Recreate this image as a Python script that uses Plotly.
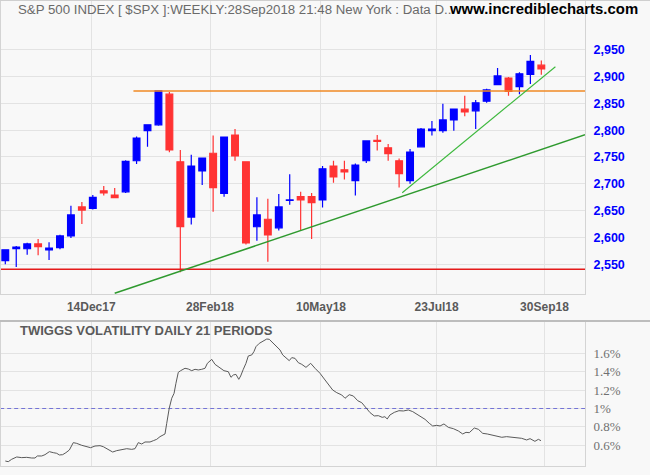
import pandas as pd
import plotly.graph_objects as go

# ---------------- data ----------------
weeks = pd.date_range("2017-10-20", periods=50, freq="W-FRI")
opens = [2557, 2579, 2579, 2588, 2577, 2581, 2603, 2657, 2654, 2687,
         2679, 2685, 2743, 2799, 2810, 2867, 2741, 2638, 2724, 2757,
         2682, 2791, 2741, 2620, 2634, 2618, 2669, 2676, 2676, 2670,
         2733, 2726, 2706, 2743, 2781, 2767, 2743, 2706, 2769, 2799,
         2799, 2819, 2839, 2836, 2854, 2885, 2897, 2881, 2904, 2921]
highs = [2578, 2584, 2590, 2597, 2591, 2605, 2659, 2666, 2679, 2696,
         2692, 2744, 2788, 2810, 2873, 2871, 2763, 2754, 2748, 2790,
         2787, 2802, 2741, 2675, 2672, 2681, 2718, 2685, 2683, 2733,
         2743, 2743, 2738, 2780, 2791, 2774, 2747, 2765, 2804, 2817,
         2849, 2839, 2864, 2856, 2877, 2916, 2899, 2908, 2940, 2930]
lows = [2550, 2545, 2568, 2567, 2558, 2578, 2599, 2625, 2652, 2678,
        2674, 2683, 2737, 2769, 2808, 2759, 2535, 2624, 2698, 2648,
        2676, 2743, 2587, 2594, 2555, 2613, 2661, 2614, 2597, 2656,
        2702, 2708, 2678, 2739, 2762, 2743, 2693, 2700, 2769, 2790,
        2795, 2799, 2826, 2802, 2851, 2885, 2864, 2867, 2886, 2903]
closes = [2577, 2582, 2588, 2583, 2580, 2603, 2642, 2651, 2675, 2683,
          2674, 2742, 2785, 2810, 2873, 2763, 2620, 2733, 2748, 2693,
          2787, 2752, 2590, 2642, 2605, 2657, 2670, 2670, 2665, 2728,
          2713, 2722, 2735, 2780, 2779, 2756, 2719, 2759, 2802, 2802,
          2819, 2839, 2834, 2851, 2875, 2901, 2872, 2905, 2928, 2914]

support_level = 2540.7
resistance_level = 2872.9
resistance_from = "2018-01-10"

trend1_dates = ["2017-12-29", "2018-10-26"]
trend1_prices = [2496.0, 2791.5]
trend2_dates = ["2018-07-01", "2018-10-07"]
trend2_prices = [2683.4, 2918.2]

vol_start = "2017-10-20"
vol_days = [0, 1.9, 4.1, 7.3, 10.5, 13.7, 16.9, 19.0, 20.5, 23.3,
            25.4, 28.2, 30.7, 32.9, 34.6, 36.7, 38.8, 41.0, 43.5, 45.7,
            48.9, 52.1, 54.6, 57.4, 60.6, 62.7, 65.9, 68.7, 71.3, 74.5,
            77.7, 80.9, 83.0, 85.1, 87.3, 89.4, 92.6, 94.7, 96.9, 99.0,
            101.1, 102.2, 103.3, 104.9, 106.5, 108.0, 109.2, 110.7, 112.2, 115.0,
            117.1, 119.3, 121.4, 123.5, 125.7, 127.8, 129.3, 132.1, 134.2, 137.4,
            139.9, 142.7, 144.4, 145.9, 147.6, 149.4, 150.6, 152.3, 154.0, 155.5,
            157.7, 159.1, 160.4, 162.5, 165.1, 167.3, 168.9, 170.5, 173.2, 175.8,
            177.5, 179.6, 181.7, 183.3, 185.4, 187.5, 189.7, 192.4, 195.4, 198.2,
            201.4, 204.6, 206.7, 209.5, 212.1, 215.3, 217.4, 220.1, 222.7, 225.5,
            228.1, 230.8, 233.4, 236.1, 238.7, 241.2, 242.9, 244.4, 246.1, 248.9,
            251.9, 254.7, 257.9, 260.7, 263.3, 265.8, 268.6, 271.3, 273.5, 276.1,
            278.2, 280.7, 283.5, 286.7, 289.9, 292.7, 294.8, 296.9, 300.1, 302.7,
            305.5, 308.4, 311.3, 314.5, 317.7, 320.8, 324.0, 327.2, 330.4, 333.6,
            335.8, 338.9, 341.1, 342.8]
vol_pct = [0.429, 0.422, 0.448, 0.473, 0.466, 0.469, 0.462, 0.462, 0.484, 0.484,
           0.498, 0.531, 0.520, 0.513, 0.495, 0.498, 0.520, 0.549, 0.629, 0.621,
           0.600, 0.585, 0.574, 0.592, 0.596, 0.585, 0.556, 0.527, 0.542, 0.556,
           0.563, 0.556, 0.563, 0.629, 0.614, 0.636, 0.636, 0.650, 0.665, 0.694,
           0.712, 0.723, 0.839, 1.002, 1.111, 1.165, 1.274, 1.393, 1.411, 1.437,
           1.429, 1.411, 1.426, 1.419, 1.426, 1.437, 1.491, 1.534, 1.480, 1.437,
           1.411, 1.400, 1.339, 1.364, 1.371, 1.317, 1.353, 1.426, 1.491, 1.571,
           1.582, 1.618, 1.672, 1.708, 1.737, 1.755, 1.752, 1.726, 1.679, 1.636,
           1.582, 1.553, 1.520, 1.553, 1.545, 1.498, 1.480, 1.447, 1.491, 1.437,
           1.382, 1.310, 1.266, 1.201, 1.172, 1.147, 1.111, 1.150, 1.136, 1.085,
           1.063, 1.002, 0.955, 0.919, 0.922, 0.904, 0.911, 0.886, 0.929, 0.958,
           0.976, 0.973, 0.984, 0.966, 0.937, 0.911, 0.882, 0.839, 0.810, 0.817,
           0.810, 0.832, 0.795, 0.781, 0.756, 0.723, 0.741, 0.737, 0.788, 0.774,
           0.730, 0.723, 0.712, 0.705, 0.687, 0.694, 0.687, 0.683, 0.676, 0.658,
           0.672, 0.643, 0.665, 0.650]
vol_ref = 1.0

price_ticks = [2550, 2600, 2650, 2700, 2750, 2800, 2850, 2900, 2950]
vol_ticks = [0.6, 0.8, 1.0, 1.2, 1.4, 1.6]
vol_tick_labels = ["0.6%", "0.8%", "1%", "1.2%", "1.4%", "1.6%"]
date_ticks = ["2017-12-14", "2018-02-28", "2018-05-10", "2018-07-23", "2018-09-30"]
date_tick_labels = ["14Dec17", "28Feb18", "10May18", "23Jul18", "30Sep18"]

title_text = "S&P 500 INDEX [ $SPX ]:WEEKLY:28Sep2018 21:48 New York : Data D.."
site_text = "www.incrediblecharts.com"
vol_title = "TWIGGS VOLATILITY DAILY 21 PERIODS"

# ---------------- figure ----------------
BG = "#f8f8f8"
GRID = "#e3e3e3"
FRAME = "#d4d4d4"
t0 = pd.Timestamp(vol_start)
x_range = [t0 - pd.Timedelta(days=2.75), t0 + pd.Timedelta(days=370.95)]
vol_dates = [t0 + pd.Timedelta(days=d) for d in vol_days]

fig = go.Figure()

fig.add_trace(go.Candlestick(
    x=weeks, open=opens, high=highs, low=lows, close=closes,
    increasing=dict(line=dict(color="#0000ff", width=1.2), fillcolor="#0000ff"),
    decreasing=dict(line=dict(color="#ff3333", width=1.2), fillcolor="#ff3333"),
    whiskerwidth=0, showlegend=False, xaxis="x", yaxis="y"))

fig.add_trace(go.Scatter(x=[x_range[0] - pd.Timedelta(days=5), x_range[1] + pd.Timedelta(days=5)],
                         y=[support_level, support_level], mode="lines",
                         line=dict(color="#e41a1a", width=1.5), showlegend=False,
                         xaxis="x", yaxis="y"))
fig.add_trace(go.Scatter(x=[pd.Timestamp(resistance_from), x_range[1] + pd.Timedelta(days=5)],
                         y=[resistance_level, resistance_level], mode="lines",
                         line=dict(color="#f08a24", width=1.3), showlegend=False,
                         xaxis="x", yaxis="y"))
fig.add_trace(go.Scatter(x=trend1_dates, y=trend1_prices, mode="lines",
                         line=dict(color="#2f9a2f", width=1.5), showlegend=False,
                         xaxis="x", yaxis="y"))
fig.add_trace(go.Scatter(x=trend2_dates, y=trend2_prices, mode="lines",
                         line=dict(color="#3cb83c", width=1.1), showlegend=False,
                         xaxis="x", yaxis="y"))

fig.add_trace(go.Scatter(x=[x_range[0] - pd.Timedelta(days=5), x_range[1] + pd.Timedelta(days=5)],
                         y=[vol_ref, vol_ref], mode="lines",
                         line=dict(color="#7474d6", width=1, dash="4px,3px"),
                         showlegend=False, xaxis="x2", yaxis="y2"))
fig.add_trace(go.Scatter(x=vol_dates, y=vol_pct, mode="lines",
                         line=dict(color="#5a5a5a", width=1), showlegend=False,
                         xaxis="x2", yaxis="y2"))

W, H = 650, 475
ml, mr, mt, mb = 1, 65, 0, 9
pw, ph = W - ml - mr, H - mt - mb

def py(px):  # pixel y -> paper y
    return 1 - (px - mt) / ph

def px_(x):  # pixel x -> paper x
    return (x - ml) / pw

axis_common = dict(showline=True, linecolor=FRAME, linewidth=1, mirror=True,
                   gridcolor=GRID, gridwidth=1, zeroline=False, ticks="")

fig.update_layout(
    width=W, height=H,
    margin=dict(l=ml, r=mr, t=mt, b=mb, pad=0),
    paper_bgcolor=BG, plot_bgcolor=BG,
    boxgap=0.12,
    showlegend=False,
    xaxis=dict(domain=[0, 1], anchor="y", type="date", range=x_range,
               tickvals=date_ticks, ticktext=date_tick_labels,
               tickfont=dict(family="Liberation Sans", size=12, color="#5a5a5a", weight="bold"),
               rangeslider=dict(visible=False), ticklabelstandoff=2, **axis_common),
    yaxis=dict(domain=[py(294), 1], anchor="x", side="right", range=[2494.7, 3042.5],
               tickvals=price_ticks, tickformat=",d",
               tickfont=dict(family="Liberation Sans", size=12.5, color="#0000ff", weight="bold"),
               ticklabelstandoff=5, **axis_common),
    xaxis2=dict(domain=[0, 1], anchor="y2", type="date", range=x_range, matches="x",
                tickvals=date_ticks, showticklabels=False, **axis_common),
    yaxis2=dict(domain=[0, py(321)], anchor="x2", side="right", range=[0.375, 1.951],
                tickvals=vol_ticks, ticktext=vol_tick_labels,
                tickfont=dict(family="Liberation Serif", size=13, color="#707070"),
                ticklabelstandoff=5, **axis_common),
)

fig.add_shape(type="line", xref="paper", yref="paper", x0=-0.01, x1=1.2,
              y0=py(321), y1=py(321), line=dict(color="#bdbdbd", width=2))
fig.add_shape(type="line", xref="paper", yref="paper", x0=-0.01, x1=1.2,
              y0=py(0.5), y1=py(0.5), line=dict(color="#cfcfcf", width=1))

fig.add_annotation(text=title_text, xref="paper", yref="paper", x=px_(16), y=py(9),
                   xanchor="left", yanchor="middle", showarrow=False,
                   font=dict(family="Liberation Sans", size=13.25, color="#6a6a6a"))
fig.add_annotation(text=site_text, xref="paper", yref="paper", x=px_(640), y=py(9),
                   xanchor="right", yanchor="middle", showarrow=False,
                   font=dict(family="Liberation Sans", size=14.9, color="#000000", weight="bold"))
fig.add_annotation(text=vol_title, xref="paper", yref="paper", x=px_(18), y=py(330),
                   xanchor="left", yanchor="middle", showarrow=False,
                   font=dict(family="Liberation Sans", size=13, color="#5a5a5a", weight="bold"))

fig.write_html("out.html", config={"displayModeBar": False},
               post_script="document.body.style.margin='0';")
